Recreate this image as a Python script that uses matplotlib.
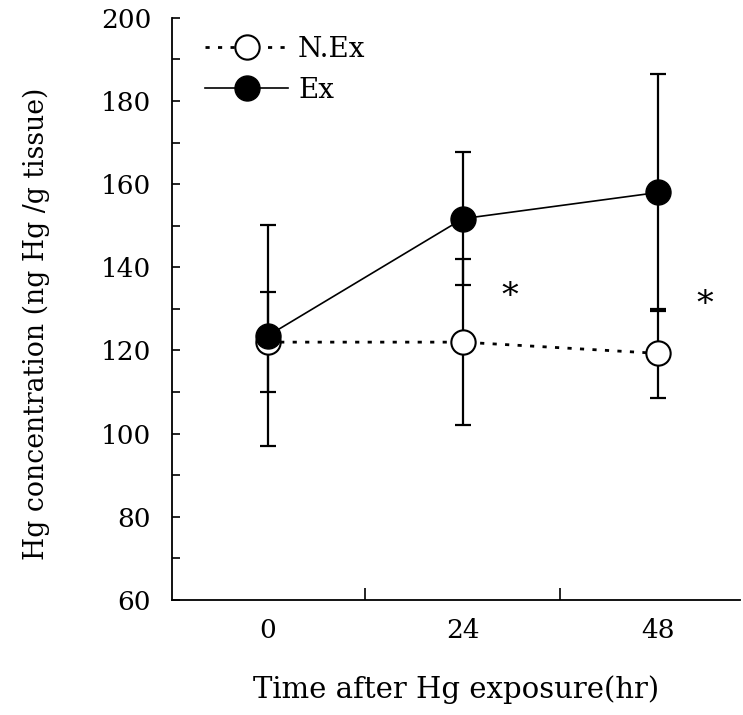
import matplotlib
matplotlib.use('Agg')
import matplotlib.pyplot as plt
import numpy as np

# hours after exposure (plotted as categories)
times = ['0', '24', '48']
nex_mean = [122, 122, 119.3]
nex_sd = [12, 20, 10.7]
ex_mean = [123.5, 151.7, 158]
ex_sd = [26.6, 16, 28.5]
star_pos = [(1.24, 132.8), (2.24, 131)]

plt.rcParams['font.family'] = 'DejaVu Serif'

fig = plt.figure(figsize=(7.43, 7.15), dpi=100)
ax = fig.add_axes([0.2315, 0.161, 0.7645, 0.814])

x = np.arange(len(times))

ax.errorbar(x, nex_mean, yerr=nex_sd, fmt='none', ecolor='black', elinewidth=1.6,
            capsize=5.5, capthick=1.6, zorder=2)
ax.errorbar(x, ex_mean, yerr=ex_sd, fmt='none', ecolor='black', elinewidth=1.6,
            capsize=5.5, capthick=1.6, zorder=2)
ax.plot(x, nex_mean, linestyle=(0, (1.5, 3)), lw=2, color='black', marker='o',
        ms=17.5, mfc='white', mec='black', mew=1.5, label='N.Ex', zorder=3)
ax.plot(x, ex_mean, linestyle='-', lw=1.2, color='black', marker='o',
        ms=18, mfc='black', mec='black', label='Ex', zorder=4)

for sx, sy in star_pos:
    ax.text(sx, sy, '*', fontsize=24, ha='center', va='center')

ax.set_xlim(-0.49, 2.42)
ax.set_ylim(60, 200)
ax.set_yticks(np.arange(60, 201, 20))
ax.set_yticks(np.arange(70, 200, 20), minor=True)
ax.tick_params(axis='y', which='both', direction='in', length=6, width=1.2,
               labelsize=19, pad=15)
ax.set_xticks(x)
ax.set_xticklabels(times)
ax.set_xticks([0.5, 1.5], minor=True)
ax.tick_params(axis='x', which='major', length=0, labelsize=19, pad=13)
ax.tick_params(axis='x', which='minor', direction='in', length=9, width=1.2)

for s in ['top', 'right']:
    ax.spines[s].set_visible(False)
for s in ['left', 'bottom']:
    ax.spines[s].set_linewidth(1.3)

ax.set_xlabel('Time after Hg exposure(hr)', fontsize=21, labelpad=23)
ax.set_ylabel('Hg concentration (ng Hg /g tissue)', fontsize=19.2)
ax.yaxis.set_label_coords(-0.215, 0.474)

ax.legend(loc='upper left', bbox_to_anchor=(0.058, 0.969), frameon=False,
          borderaxespad=0, borderpad=0,
          fontsize=20, handlelength=3.0, handletextpad=0.35, labelspacing=0.5)

fig.savefig('out.png', dpi=100)
